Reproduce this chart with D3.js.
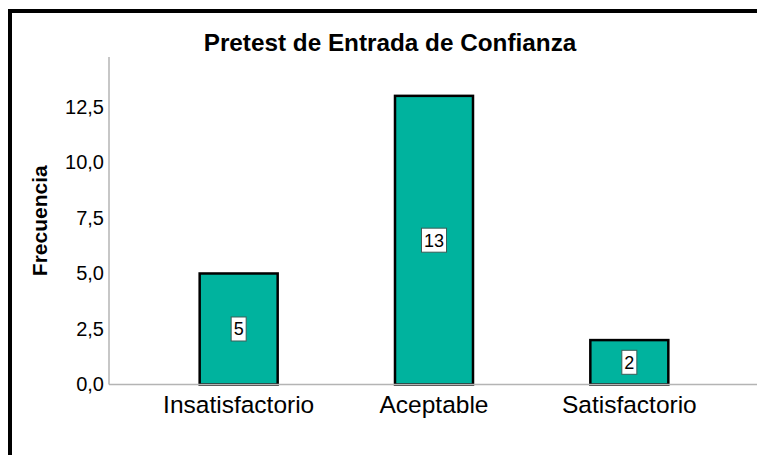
<!DOCTYPE html>
<html>
<head>
<meta charset="utf-8">
<script src="https://cdn.jsdelivr.net/npm/d3@7"></script>
<style>
  html, body { margin: 0; padding: 0; background: #fff; }
  svg { display: block; font-family: "Liberation Sans", Arial, sans-serif; }
</style>
</head>
<body>
<svg id="chart" width="757" height="455"></svg>
<script>
const categories = ["Insatisfactorio", "Aceptable", "Satisfactorio"];
const values = [5, 13, 2];
const yTicks = [0, 2.5, 5, 7.5, 10, 12.5];
const yTickLabels = ["0,0", "2,5", "5,0", "7,5", "10,0", "12,5"];
const title = "Pretest de Entrada de Confianza";
const yTitle = "Frecuencia";

const svg = d3.select("#chart");

// outer frame (left and top edges visible)
svg.append("rect")
  .attr("x", 10).attr("y", 11)
  .attr("width", 800).attr("height", 500)
  .attr("fill", "none").attr("stroke", "#000").attr("stroke-width", 4);

const plot = { left: 109, right: 760, top: 57, bottom: 384.5 };

const y = d3.scaleLinear().domain([0, 14.75]).range([plot.bottom, plot.top]);
const x = d3.scaleBand().domain(categories).range([141, 727]).paddingInner(0.6).paddingOuter(0.3);

// y axis line
svg.append("line")
  .attr("x1", plot.left).attr("x2", plot.left)
  .attr("y1", plot.top).attr("y2", plot.bottom)
  .attr("stroke", "#b4b4b4").attr("stroke-width", 1.5);

// y tick labels via axis
const yAxis = d3.axisLeft(y).tickValues(yTicks)
  .tickFormat((d, i) => yTickLabels[i]).tickSize(0).tickPadding(5);
const gy = svg.append("g").attr("transform", `translate(${plot.left},0)`).call(yAxis);
gy.select(".domain").remove();
gy.selectAll("text").attr("font-size", 20).attr("fill", "#000")
  .attr("font-family", "Liberation Sans, Arial, sans-serif");

// bars
const bw = 78;
svg.selectAll("rect.bar").data(values).join("rect")
  .attr("class", "bar")
  .attr("x", (d, i) => x(categories[i]) + x.bandwidth() / 2 - bw / 2)
  .attr("width", bw)
  .attr("y", d => y(d))
  .attr("height", d => y(0) - y(d))
  .attr("fill", "#00b39e")
  .attr("stroke", "#000").attr("stroke-width", 2.5);

// baseline
svg.append("line")
  .attr("x1", plot.left).attr("x2", plot.right)
  .attr("y1", plot.bottom).attr("y2", plot.bottom)
  .attr("stroke", "#b4b4b4").attr("stroke-width", 1.5);

// x axis labels
const xAxis = d3.axisBottom(x).tickSize(0).tickPadding(11);
const gx = svg.append("g").attr("transform", `translate(0,${plot.bottom})`).call(xAxis);
gx.select(".domain").remove();
gx.selectAll("text").attr("font-size", 24.5).attr("fill", "#000")
  .attr("font-family", "Liberation Sans, Arial, sans-serif");

// value labels
const lbl = svg.selectAll("g.vl").data(values).join("g")
  .attr("class", "vl")
  .attr("transform", (d, i) => `translate(${x(categories[i]) + x.bandwidth() / 2},${(y(d) + y(0)) / 2})`);
lbl.append("text")
  .attr("text-anchor", "middle").attr("dy", "0.36em")
  .attr("font-size", 18).attr("fill", "#000")
  .text(d => d);
lbl.each(function() {
  const g = d3.select(this);
  const t = g.select("text").node().getBBox();
  g.insert("rect", "text")
    .attr("x", t.x - 2.5).attr("y", -12)
    .attr("width", t.width + 5).attr("height", 24)
    .attr("fill", "#fff").attr("stroke", "#3b5e58").attr("stroke-width", 1);
});

// title
svg.append("text")
  .attr("x", 390).attr("y", 51)
  .attr("text-anchor", "middle")
  .attr("font-size", 24.3).attr("font-weight", "bold")
  .text(title);

// y title
svg.append("text")
  .attr("transform", `translate(47,${(plot.top + plot.bottom) / 2}) rotate(-90)`)
  .attr("text-anchor", "middle")
  .attr("font-size", 21).attr("font-weight", "bold")
  .text(yTitle);
</script>
</body>
</html>
